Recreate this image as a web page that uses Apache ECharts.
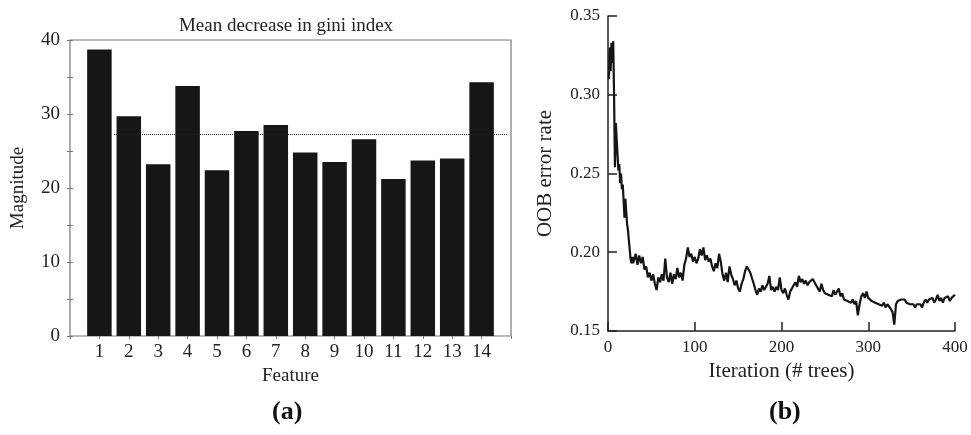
<!DOCTYPE html>
<html>
<head>
<meta charset="utf-8">
<script src="https://cdn.jsdelivr.net/npm/echarts@6/dist/echarts.min.js"></script>
<style>
    html, body { margin: 0; padding: 0; background: #fff; }
    #main { width: 971px; height: 435px; }
</style>
</head>
<body>
<div id="main"></div>
<script>
// (a) mean decrease in gini index
var features = [1, 2, 3, 4, 5, 6, 7, 8, 9, 10, 11, 12, 13, 14];
var magnitude = [38.7, 29.7, 23.2, 33.8, 22.4, 27.7, 28.5, 24.8, 23.5, 26.6, 21.2, 23.7, 24.0, 34.3];
var giniThreshold = 27.2;
var magTicks = [0, 10, 20, 30, 40];

// (b) OOB error rate, one value per tree for trees 1-30
var oobFirst = [
    0.310, 0.330, 0.315, 0.333, 0.320, 0.334, 0.300, 0.254, 0.282, 0.272,
    0.262, 0.252, 0.256, 0.244, 0.250, 0.240, 0.243, 0.233, 0.222, 0.234,
    0.226, 0.218, 0.214, 0.208, 0.202, 0.196, 0.193, 0.197, 0.193, 0.195
];
// then every second tree, 32 .. 400
var oobRest = [
    0.199, 0.192, 0.198, 0.193, 0.197, 0.189, 0.191, 0.184, 0.187, 0.182,
    0.186, 0.180, 0.176, 0.184, 0.181, 0.186, 0.182, 0.196, 0.184, 0.181,
    0.187, 0.180, 0.186, 0.183, 0.190, 0.184, 0.187, 0.182, 0.192, 0.196,
    0.203, 0.197, 0.199, 0.194, 0.197, 0.193, 0.196, 0.202, 0.198, 0.203,
    0.195, 0.198, 0.194, 0.196, 0.191, 0.188, 0.193, 0.190, 0.199, 0.194,
    0.186, 0.182, 0.187, 0.181, 0.191, 0.186, 0.183, 0.179, 0.182, 0.177,
    0.175, 0.180, 0.183, 0.188, 0.191, 0.189, 0.187, 0.186, 0.180, 0.176,
    0.173, 0.177, 0.175, 0.179, 0.176, 0.178, 0.180, 0.185, 0.176, 0.178,
    0.175, 0.178, 0.176, 0.184, 0.176, 0.174, 0.177, 0.173, 0.170, 0.175,
    0.174, 0.179, 0.181, 0.178, 0.185, 0.181, 0.183, 0.180, 0.182, 0.179,
    0.181, 0.180, 0.183, 0.181, 0.182, 0.177, 0.175, 0.180, 0.176, 0.174,
    0.175, 0.173, 0.174, 0.172, 0.176, 0.173, 0.174, 0.177, 0.172, 0.174,
    0.170, 0.171, 0.169, 0.170, 0.168, 0.170, 0.167, 0.169, 0.160, 0.167,
    0.172, 0.174, 0.171, 0.175, 0.171, 0.172, 0.169, 0.170, 0.168, 0.169,
    0.167, 0.168, 0.166, 0.168, 0.165, 0.167, 0.166, 0.164, 0.162, 0.154,
    0.167, 0.169, 0.168, 0.170, 0.169, 0.170, 0.168, 0.169, 0.167, 0.166,
    0.167, 0.165, 0.167, 0.166, 0.167, 0.165, 0.168, 0.170, 0.168, 0.170,
    0.169, 0.171, 0.168, 0.170, 0.173, 0.169, 0.171, 0.168, 0.171, 0.170,
    0.172, 0.169, 0.171, 0.170, 0.173
];
var iterTicks = [0, 100, 200, 300, 400];
var oobTicks = [0.15, 0.20, 0.25, 0.30, 0.35];

var serif = 'Liberation Serif';

function mainCanvas() {
    var myChart = echarts.init(document.getElementById('main'));

    var barData = [];
    for (var i = 0; i < features.length; i++) {
        barData.push([features[i], magnitude[i]]);
    }
    var oobData = [];
    for (var j = 0; j < oobFirst.length; j++) {
        oobData.push([j + 1, oobFirst[j]]);
    }
    for (var k = 0; k < oobRest.length; k++) {
        oobData.push([32 + 2 * k, oobRest[k]]);
    }

    var frameColor = '#777';
    var axisColor = '#222';

    var option = {
        backgroundColor: '#fff',
        animation: false,
        title: {
            text: 'Mean decrease in gini index',
            left: 281,
            top: 12,
            textAlign: 'center',
            textStyle: { fontFamily: serif, fontSize: 19, fontWeight: 'normal', color: '#222' }
        },
        grid: [
            { left: 70, top: 40, width: 441, height: 296, show: true, borderColor: frameColor, borderWidth: 1.2 },
            { left: 608, top: 16, width: 347, height: 315 }
        ],
        xAxis: [
            {
                gridIndex: 0, type: 'value', min: 0, max: features.length + 1, interval: 1,
                name: 'Feature', nameLocation: 'middle', nameGap: 30,
                nameTextStyle: { fontFamily: serif, fontSize: 19, color: '#222' },
                axisLine: { show: false },
                axisTick: { show: false },
                splitLine: { show: false },
                axisLabel: {
                    fontFamily: serif, fontSize: 19, color: '#222', margin: 7,
                    formatter: function (v) { return features.indexOf(v) >= 0 ? String(v) : ''; }
                }
            },
            {
                gridIndex: 0, type: 'value', position: 'top', min: 0, max: features.length + 1, interval: 1,
                axisLine: { show: false },
                axisTick: { show: true, inside: true, length: 3, lineStyle: { color: frameColor } },
                axisLabel: { show: false },
                splitLine: { show: false }
            },
            {
                gridIndex: 1, type: 'value', min: iterTicks[0], max: iterTicks[iterTicks.length - 1], interval: 100,
                name: 'Iteration (# trees)', nameLocation: 'middle', nameGap: 25,
                nameTextStyle: { fontFamily: serif, fontSize: 21, color: '#222' },
                axisLine: { show: true, onZero: false, lineStyle: { color: axisColor, width: 1.5 } },
                axisTick: { show: true, inside: true, length: 9, lineStyle: { color: axisColor, width: 1.5 } },
                splitLine: { show: false },
                axisLabel: { fontFamily: serif, fontSize: 17, color: '#222', margin: 8 }
            }
        ],
        yAxis: [
            {
                gridIndex: 0, type: 'value', min: 0, max: 40, interval: 5,
                name: 'Magnitude', nameLocation: 'middle', nameGap: 42,
                nameTextStyle: { fontFamily: serif, fontSize: 19, color: '#222' },
                axisLine: { show: false },
                axisTick: { show: true, inside: true, length: 3, lineStyle: { color: frameColor } },
                splitLine: { show: false },
                axisLabel: {
                    fontFamily: serif, fontSize: 19, color: '#222', margin: 10,
                    formatter: function (v) { return magTicks.indexOf(v) >= 0 ? String(v) : ''; }
                }
            },
            {
                gridIndex: 0, type: 'value', position: 'right', min: 0, max: 40, interval: 5,
                axisLine: { show: false },
                axisTick: { show: true, inside: true, length: 3, lineStyle: { color: frameColor } },
                axisLabel: { show: false },
                splitLine: { show: false }
            },
            {
                gridIndex: 1, type: 'value', min: oobTicks[0], max: oobTicks[oobTicks.length - 1], interval: 0.05,
                name: 'OOB error rate', nameLocation: 'middle', nameGap: 52,
                nameTextStyle: { fontFamily: serif, fontSize: 21, color: '#222' },
                axisLine: { show: true, lineStyle: { color: axisColor, width: 1.5 } },
                axisTick: { show: true, inside: true, length: 9, lineStyle: { color: axisColor, width: 1.5 } },
                splitLine: { show: false },
                axisLabel: {
                    fontFamily: serif, fontSize: 17, color: '#222', margin: 8,
                    formatter: function (v) { return v.toFixed(2); }
                }
            }
        ],
        series: [
            { // dotted threshold, behind the bars
                type: 'line',
                xAxisIndex: 0, yAxisIndex: 0,
                data: [],
                z: 1,
                markLine: {
                    silent: true,
                    symbol: 'none',
                    label: { show: false },
                    lineStyle: { type: 'dotted', color: '#222', width: 1 },
                    data: [[{ coord: [1.5, giniThreshold] }, { coord: [14.9, giniThreshold] }]]
                }
            },
            {
                type: 'bar',
                xAxisIndex: 0, yAxisIndex: 0,
                barWidth: 24.5,
                z: 3,
                itemStyle: { color: '#161616' },
                data: barData
            },
            {
                type: 'line',
                xAxisIndex: 2, yAxisIndex: 2,
                showSymbol: false,
                lineStyle: { color: '#151515', width: 2.2 },
                data: oobData
            }
        ],
        graphic: [
            {
                type: 'text', left: 272, top: 399,
                style: { text: '(a)', font: 'bold 26px "Liberation Serif"', fill: '#111' }
            },
            {
                type: 'text', left: 769, top: 399,
                style: { text: '(b)', font: 'bold 26px "Liberation Serif"', fill: '#111' }
            }
        ]
    };

    myChart.setOption(option);
}

mainCanvas();
</script>
</body>
</html>
